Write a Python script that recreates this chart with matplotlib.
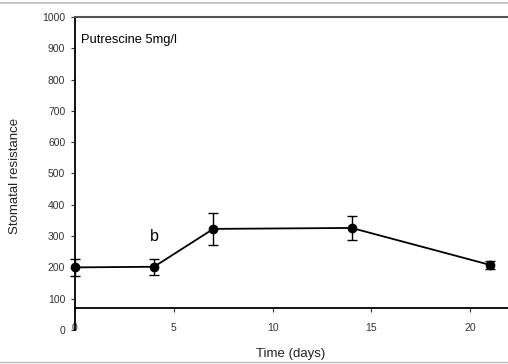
import matplotlib
matplotlib.use("Agg")
import matplotlib.pyplot as plt
from matplotlib.lines import Line2D

# -------------------------------
# DATA
# -------------------------------
days = [0, 4, 7, 14, 21]
resistance = [200, 202, 323, 326, 208]
errors = [27, 26, 52, 37, 12]

y_ticks = [0, 100, 200, 300, 400, 500, 600, 700, 800, 900, 1000]
x_ticks = [0, 5, 10, 15, 20]

plt.rcParams["font.family"] = ["Liberation Sans", "DejaVu Sans"]

fig = plt.figure(figsize=(5.08, 3.64), dpi=100)
ax = fig.add_axes([0.1476, 0.0934, 0.852, 0.860])

ax.errorbar(days, resistance, yerr=errors, color="black", linewidth=1.3,
            marker="o", markersize=6, capsize=3.5, elinewidth=1.0,
            capthick=1.0, clip_on=False, zorder=5)

ax.set_xlim(0, 21.9)
ax.set_ylim(0, 1000)
ax.set_xticks(x_ticks)
ax.set_yticks(y_ticks)

# x axis sits above zero, like the original SigmaPlot layout
ax.spines["bottom"].set_position(("data", 70))
ax.spines["right"].set_visible(False)
ax.spines["top"].set_color("#555555")
ax.spines["top"].set_linewidth(1.5)
ax.spines["left"].set_linewidth(1.3)
ax.spines["bottom"].set_linewidth(1.3)

ax.tick_params(axis="both", direction="out", length=3, width=0.8,
               labelsize=7.5, colors="#333333")
ax.tick_params(axis="x", pad=8)
ax.tick_params(axis="y", pad=4)

ax.text(0.3, 925, "Putrescine 5mg/l", fontsize=9.3, va="center", ha="left")
ax.text(4, 300, "b", fontsize=11.5, ha="center", va="center")

fig.text(0.03, 0.516, "Stomatal resistance", rotation=90, fontsize=9.5,
         ha="center", va="center", color="#222222")
fig.text(0.573, 0.028, "Time (days)", fontsize=9.5, ha="center", va="center",
         color="#222222")

# scan frame lines around the figure
fig.add_artist(Line2D([0, 1], [0.991, 0.991], color="#bbbbbb", linewidth=1.2))
fig.add_artist(Line2D([0, 1], [0.006, 0.006], color="#bbbbbb", linewidth=1.0))

fig.savefig("out.png", dpi=100)
